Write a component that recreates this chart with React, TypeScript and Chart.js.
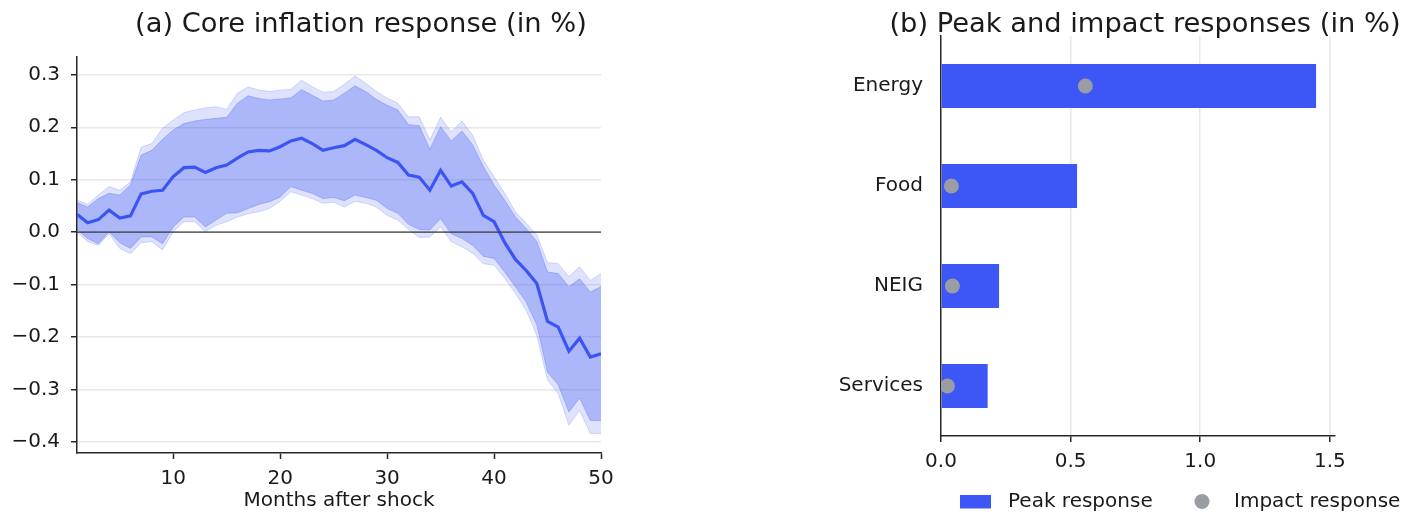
import React, { useEffect, useRef } from "react";
import { Chart, registerables } from "chart.js";

Chart.register(...registerables);

// ---------- Panel (a): core inflation response ----------
const months = [
  1, 2, 3, 4, 5, 6, 7, 8, 9, 10, 11, 12, 13, 14, 15, 16, 17, 18, 19, 20, 21, 22, 23, 24, 25,
  26, 27, 28, 29, 30, 31, 32, 33, 34, 35, 36, 37, 38, 39, 40, 41, 42, 43, 44, 45, 46, 47, 48, 49, 50,
];
const median = [
  0.034, 0.018, 0.024, 0.042, 0.027, 0.031, 0.073, 0.078, 0.08, 0.106, 0.123, 0.124, 0.114, 0.123,
  0.128, 0.141, 0.153, 0.156, 0.155, 0.163, 0.174, 0.179, 0.169, 0.156, 0.161, 0.165, 0.177, 0.167,
  0.156, 0.142, 0.133, 0.109, 0.105, 0.08, 0.118, 0.088, 0.096, 0.074, 0.032, 0.02, -0.02, -0.052,
  -0.073, -0.098, -0.17, -0.181, -0.227, -0.202, -0.238, -0.232,
];
const innerHi = [
  0.056, 0.048, 0.064, 0.074, 0.071, 0.09, 0.147, 0.156, 0.177, 0.195, 0.207, 0.212, 0.215, 0.217,
  0.219, 0.246, 0.26, 0.255, 0.252, 0.254, 0.256, 0.272, 0.261, 0.25, 0.252, 0.265, 0.279, 0.268,
  0.253, 0.242, 0.233, 0.205, 0.203, 0.158, 0.201, 0.174, 0.193, 0.166, 0.125, 0.09, 0.061, 0.029,
  0.007, -0.018, -0.076, -0.079, -0.104, -0.089, -0.114, -0.104,
];
const outerHi = [
  0.061, 0.053, 0.071, 0.087, 0.08, 0.096, 0.162, 0.169, 0.198, 0.214, 0.228, 0.233, 0.237, 0.239,
  0.234, 0.265, 0.277, 0.271, 0.268, 0.271, 0.272, 0.29, 0.277, 0.267, 0.268, 0.282, 0.298, 0.284,
  0.268, 0.256, 0.246, 0.22, 0.22, 0.176, 0.219, 0.191, 0.212, 0.185, 0.137, 0.106, 0.074, 0.039,
  0.017, -0.005, -0.058, -0.06, -0.085, -0.066, -0.092, -0.079,
];
const innerLo = [
  0.005, -0.012, -0.022, 0.001, -0.02, -0.031, -0.009, -0.009, -0.022, 0.01, 0.029, 0.029, 0.01,
  0.023, 0.036, 0.037, 0.045, 0.053, 0.058, 0.067, 0.087, 0.08, 0.074, 0.064, 0.066, 0.06, 0.071,
  0.066, 0.061, 0.045, 0.036, 0.015, 0.005, 0.004, 0.026, -0.003, -0.012, -0.025, -0.046, -0.05,
  -0.076, -0.104, -0.133, -0.177, -0.267, -0.291, -0.343, -0.316, -0.359, -0.359,
];
const outerLo = [
  0.001, -0.018, -0.025, -0.003, -0.031, -0.041, -0.02, -0.018, -0.034, 0.001, 0.02, 0.02, 0.001,
  0.013, 0.02, 0.029, 0.035, 0.039, 0.045, 0.059, 0.077, 0.071, 0.064, 0.055, 0.057, 0.048, 0.059,
  0.055, 0.048, 0.032, 0.023, 0.005, -0.01, -0.009, 0.01, -0.018, -0.028, -0.04, -0.06, -0.063,
  -0.088, -0.117, -0.149, -0.197, -0.282, -0.308, -0.368, -0.34, -0.384, -0.384,
];
const yTicksA = [-0.4, -0.3, -0.2, -0.1, 0, 0.1, 0.2, 0.3];
const xTicksA = [10, 20, 30, 40, 50];

// ---------- Panel (b): peak and impact responses ----------
const categories = ["Energy", "Food", "NEIG", "Services"];
const peakResponse = [1.447, 0.525, 0.224, 0.18];
const impactResponse = [0.557, 0.04, 0.044, 0.025];
const xTicksB = [0, 0.5, 1.0, 1.5];

const FONT = "'DejaVu Sans', Verdana, sans-serif";
const TICK_SIZE = 20;
const TITLE_SIZE = 27.3;
const TXT = "#1a1a1a";
const BLUE = "#3d57f7";
const GREY_DOT = "#9b9da4";
const GRID = "#e8e8e8";
const AXIS = "#262626";

const fmt = (v: number) => {
  const s = Math.abs(v).toFixed(1);
  return v < -1e-9 ? "\u2212" + s : s;
};

const titlePlugin = (text: string, cx: number, cy: number) => ({
  id: "customTitle",
  afterDraw(chart: any) {
    const ctx = chart.ctx;
    ctx.save();
    ctx.font = `${TITLE_SIZE}px ${FONT}`;
    ctx.fillStyle = TXT;
    ctx.textAlign = "center";
    ctx.textBaseline = "middle";
    ctx.fillText(text, cx, cy);
    ctx.restore();
  },
});

const zeroLinePlugin = {
  id: "zeroLine",
  afterDatasetsDraw(chart: any) {
    const { ctx, chartArea, scales } = chart;
    const y = scales.y.getPixelForValue(0);
    ctx.save();
    ctx.strokeStyle = "#3a3a3a";
    ctx.lineWidth = 1.3;
    ctx.beginPath();
    ctx.moveTo(chartArea.left, y);
    ctx.lineTo(chartArea.right, y);
    ctx.stroke();
    ctx.restore();
  },
};

const legendPlugin = {
  id: "customLegend",
  afterDraw(chart: any) {
    const ctx = chart.ctx;
    ctx.save();
    ctx.font = `${TICK_SIZE}px ${FONT}`;
    ctx.textBaseline = "middle";
    ctx.textAlign = "left";
    const cy = 501.5;
    ctx.fillStyle = BLUE;
    ctx.fillRect(260, 495, 31, 13.5);
    ctx.fillStyle = TXT;
    ctx.fillText("Peak response", 308, cy);
    ctx.fillStyle = GREY_DOT;
    ctx.beginPath();
    ctx.arc(502, cy, 7.5, 0, Math.PI * 2);
    ctx.fill();
    ctx.fillStyle = TXT;
    ctx.fillText("Impact response", 534, cy);
    ctx.restore();
  },
};

function PanelA() {
  const ref = useRef<HTMLCanvasElement>(null);
  useEffect(() => {
    if (!ref.current) return;
    const pts = (arr: number[]) => months.map((m, i) => ({ x: m, y: arr[i] }));
    const band = (a: number) => `rgba(61,85,245,${a})`;
    const chart = new Chart(ref.current, {
      type: "line",
      data: {
        datasets: [
          { data: pts(outerLo), borderColor: band(0.2), borderWidth: 1, pointRadius: 0, fill: false },
          { data: pts(outerHi), borderColor: band(0.2), borderWidth: 1, pointRadius: 0, fill: "-1", backgroundColor: band(0.17) },
          { data: pts(innerLo), borderColor: band(0.3), borderWidth: 1, pointRadius: 0, fill: false },
          { data: pts(innerHi), borderColor: band(0.3), borderWidth: 1, pointRadius: 0, fill: "-1", backgroundColor: band(0.3) },
          { data: pts(median), borderColor: "#3d55f5", borderWidth: 3.2, pointRadius: 0, fill: false },
        ],
      } as any,
      options: {
        animation: false,
        responsive: false,
        maintainAspectRatio: false,
        layout: { padding: { top: 57, right: 99, bottom: 0, left: 0 } },
        plugins: { legend: { display: false }, tooltip: { enabled: false } },
        scales: {
          x: {
            type: "linear",
            min: 1,
            max: 50,
            afterBuildTicks: (s: any) => {
              s.ticks = xTicksA.map((v) => ({ value: v }));
            },
            afterFit: (s: any) => {
              s.height = 64;
            },
            grid: { drawOnChartArea: false, drawTicks: true, tickLength: 6, tickColor: AXIS, tickWidth: 1.5 },
            border: { color: AXIS, width: 1.5 },
            ticks: { font: { family: FONT, size: TICK_SIZE }, color: TXT, padding: 8, maxRotation: 0, callback: (v: any) => String(v) },
            title: { display: true, text: "Months after shock", font: { family: FONT, size: TICK_SIZE }, color: TXT, padding: { top: 0, bottom: 4 } },
          },
          y: {
            type: "linear",
            min: -0.421,
            max: 0.334,
            afterBuildTicks: (s: any) => {
              s.ticks = yTicksA.map((v) => ({ value: v }));
            },
            afterFit: (s: any) => {
              s.width = 77;
            },
            grid: { color: GRID, lineWidth: 1.5, tickColor: AXIS, tickLength: 6, tickWidth: 1.5 },
            border: { color: AXIS, width: 1.5 },
            ticks: { font: { family: FONT, size: TICK_SIZE }, color: TXT, padding: 11, callback: (v: any) => fmt(Number(v)) },
          },
        },
      } as any,
      plugins: [zeroLinePlugin, titlePlugin("(a) Core inflation response (in %)", 361, 25)],
    });
    return () => chart.destroy();
  }, []);
  return <canvas ref={ref} width={700} height={517} style={{ position: "absolute", left: 0, top: 0, width: 700, height: 517 }} />;
}

function PanelB() {
  const ref = useRef<HTMLCanvasElement>(null);
  useEffect(() => {
    if (!ref.current) return;
    const chart = new Chart(ref.current, {
      type: "bar",
      data: {
        labels: categories,
        datasets: [
          {
            type: "line",
            label: "Impact response",
            data: impactResponse,
            indexAxis: "y",
            showLine: false,
            pointRadius: 7.5,
            pointBackgroundColor: GREY_DOT,
            pointBorderWidth: 0,
            borderColor: GREY_DOT,
            order: 1,
          },
          {
            type: "bar",
            label: "Peak response",
            data: peakResponse,
            backgroundColor: BLUE,
            barPercentage: 0.44,
            categoryPercentage: 1,
            order: 2,
          },
        ],
      } as any,
      options: {
        indexAxis: "y",
        animation: false,
        responsive: false,
        maintainAspectRatio: false,
        layout: { padding: { top: 36, right: 69, bottom: 41, left: 0 } },
        plugins: { legend: { display: false }, tooltip: { enabled: false } },
        scales: {
          x: {
            type: "linear",
            min: 0,
            max: 1.52,
            afterBuildTicks: (s: any) => {
              s.ticks = xTicksB.map((v) => ({ value: v }));
            },
            afterFit: (s: any) => {
              s.height = 40;
            },
            grid: {
              color: (c: any) => (c.tick && c.tick.value === 0 ? "rgba(0,0,0,0)" : GRID),
              lineWidth: 1.5,
              tickColor: AXIS,
              tickLength: 6,
              tickWidth: 1.5,
            },
            border: { color: AXIS, width: 1.5 },
            ticks: { font: { family: FONT, size: TICK_SIZE }, color: TXT, padding: 8, maxRotation: 0, callback: (v: any) => Number(v).toFixed(1) },
          },
          y: {
            type: "category",
            afterFit: (s: any) => {
              s.width = 241;
            },
            grid: { display: false },
            border: { color: AXIS, width: 1.5 },
            ticks: { font: { family: FONT, size: TICK_SIZE }, color: TXT, padding: 10 },
          },
        },
      } as any,
      plugins: [legendPlugin, titlePlugin("(b) Peak and impact responses (in %)", 445, 25)],
    });
    return () => chart.destroy();
  }, []);
  return <canvas ref={ref} width={704} height={517} style={{ position: "absolute", left: 700, top: 0, width: 704, height: 517 }} />;
}

export default function App() {
  return (
    <div style={{ position: "absolute", left: 0, top: 0, width: 1404, height: 517, background: "#fff", overflow: "hidden" }}>
      <PanelA />
      <PanelB />
    </div>
  );
}
